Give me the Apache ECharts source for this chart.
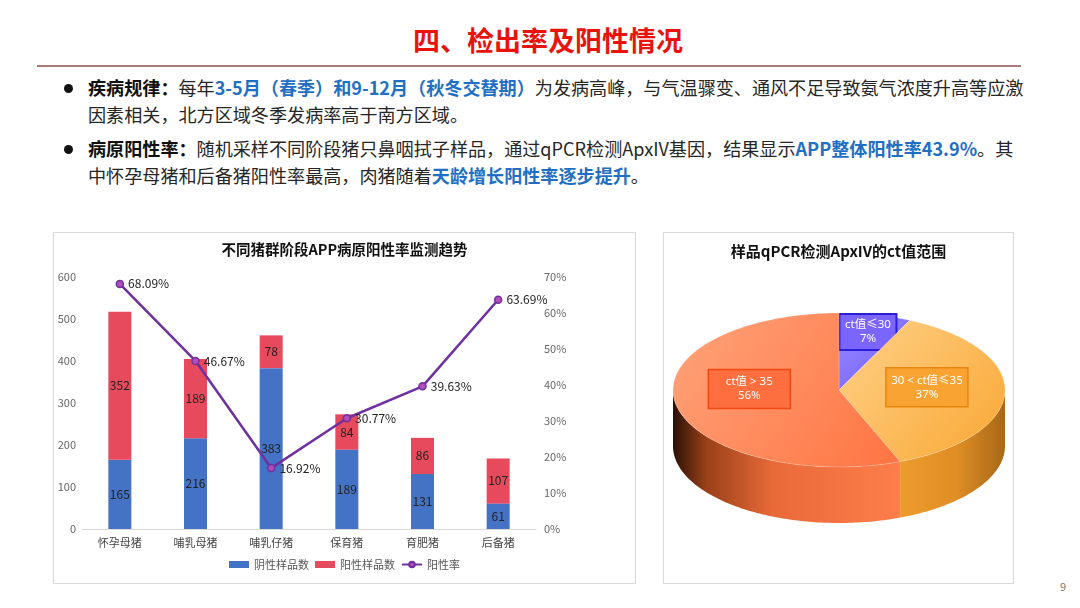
<!DOCTYPE html>
<html>
<head>
<meta charset="utf-8">
<script src="https://cdn.jsdelivr.net/npm/echarts@6/dist/echarts.min.js"></script>
<style>
  html, body { margin: 0; padding: 0; background: #fff; }
  body { width: 1080px; height: 608px; position: relative; overflow: hidden;
         font-family: "Noto Sans CJK SC", "Noto Sans", sans-serif; color: #262626; }
  #title { position: absolute; top: 19px; left: 0; width: 1096px; text-align: center;
           font-size: 27px; font-weight: 700; color: #e8140c; line-height: 42px; }
  #rule { position: absolute; top: 65px; left: 37px; width: 984px; height: 2px; background: #a87c78; }
  .bul { position: absolute; left: 88px; width: 980px; font-size: 18.1px; line-height: 27px; }
  .bul::before { content: ""; position: absolute; left: -24px; top: 10px; width: 9px; height: 9px;
                 border-radius: 50%; background: #111; }
  .bul b { color: #111; }
  .bul .hl { color: #1f6fc5; font-weight: 700; }
  .box { position: absolute; border: 1px solid #d9d9d9; background: #fff; }
  #pg { position: absolute; left: 1060px; top: 578px; font-size: 11px; color: #777; }
</style>
</head>
<body>
<div id="title">四、检出率及阳性情况</div>
<div id="rule"></div>
<div class="bul" style="top:74px"><b>疾病规律：</b>每年<span class="hl">3-5月（春季）和9-12月（秋冬交替期）</span>为发病高峰，与气温骤变、通风不足导致氨气浓度升高等应激<br>因素相关，北方区域冬季发病率高于南方区域。</div>
<div class="bul" style="top:135px"><b>病原阳性率：</b>随机采样不同阶段猪只鼻咽拭子样品，通过qPCR检测ApxIV基因，结果显示<span class="hl">APP整体阳性率43.9%</span>。其<br>中怀孕母猪和后备猪阳性率最高，肉猪随着<span class="hl">天龄增长阳性率逐步提升</span>。</div>
<div id="c1" class="box" style="left:53px;top:232px;width:581px;height:350px"></div>
<div id="c2" class="box" style="left:663px;top:232px;width:349px;height:350px"></div>
<div id="pg">9</div>
<script>
// ---- bar + line chart data ----
const stages = ['怀孕母猪', '哺乳母猪', '哺乳仔猪', '保育猪', '育肥猪', '后备猪'];
const negCounts = [165, 216, 383, 189, 131, 61];
const posCounts = [352, 189, 78, 84, 86, 107];
const posRate = [68.09, 46.67, 16.92, 30.77, 39.63, 63.69];

// ---- ct value pie data ----
const ctNames = ['ct值≤30', '30 < ct值≤35', 'ct值 > 35'];
const ctShares = [7, 37, 56];

const FONT = '"Noto Sans CJK SC", "Noto Sans", sans-serif';
const LFONT = '"Noto Sans", "Noto Sans CJK SC", sans-serif';

const c1 = echarts.init(document.getElementById('c1'));
c1.setOption({
  animation: false,
  textStyle: { fontFamily: FONT },
  title: { text: '不同猪群阶段APP病原阳性率监测趋势', left: 'center', top: 4,
           textStyle: { fontSize: 14.5, fontWeight: 700, color: '#111', fontFamily: FONT } },
  legend: { bottom: 8, itemGap: 6, itemWidth: 20, itemHeight: 7,
            textStyle: { fontSize: 11, color: '#555' },
            data: [{ name: '阴性样品数', icon: 'rect' }, { name: '阳性样品数', icon: 'rect' }, { name: '阳性率' }] },
  grid: { left: 28, right: 99, top: 44, bottom: 54, outerBoundsMode: 'none', containLabel: false },
  xAxis: { type: 'category', data: stages,
           axisTick: { show: false }, axisLine: { lineStyle: { color: '#d9d9d9' } },
           axisLabel: { fontSize: 11, color: '#444', margin: 8 } },
  yAxis: [
    { type: 'value', min: 0, max: 600, interval: 100, splitLine: { show: false },
      axisLabel: { fontSize: 11, color: '#666', margin: 6 } },
    { type: 'value', min: 0, max: 70, interval: 10, splitLine: { show: false },
      axisLabel: { fontSize: 11, color: '#666', formatter: '{value}%', margin: 8 } }
  ],
  series: [
    { name: '阴性样品数', type: 'bar', stack: 'n', data: negCounts, barWidth: 23,
      itemStyle: { color: '#4472c4' },
      label: { show: true, position: 'inside', color: '#222', fontSize: 12 } },
    { name: '阳性样品数', type: 'bar', stack: 'n', data: posCounts, barWidth: 23,
      itemStyle: { color: '#e64a5c' },
      label: { show: true, position: 'inside', color: '#222', fontSize: 12 } },
    { name: '阳性率', type: 'line', yAxisIndex: 1, data: posRate,
      symbol: 'circle', symbolSize: 7,
      lineStyle: { color: '#7030a0', width: 2.5 },
      itemStyle: { color: '#b04fb8', borderColor: '#7030a0', borderWidth: 1.5 },
      label: { show: true, position: 'right', color: '#222', fontSize: 12, distance: 4,
               formatter: p => p.value.toFixed(2) + '%' } }
  ]
});

// ---- 3D-looking pie drawn with custom series ----
const PIE = { cx: 175, cy: 157, rx: 166, ry: 77, depth: 56 };
const topFills = [
  ['#9a8cff', '#6f5cff'],
  ['#ffd18a', '#f9a732'],
  ['#ffa37a', '#ff7442']
];
const sideFills = [
  [[0, '#5040c0'], [1, '#6f5cff']],
  [[0, '#f5a435'], [0.55, '#f9a732'], [0.85, '#e08e25'], [1, '#a86818']],
  [[0, '#2a1006'], [0.1, '#9a4018'], [0.3, '#e86a38'], [0.7, '#ff7f4c'], [1, '#ff8a55']]
];
const boxStyle = [
  { fill: '#7a66ff', stroke: '#2b1fd6' },
  { fill: '#f9a432', stroke: '#e8860c' },
  { fill: '#ff6e3e', stroke: '#f04a10' }
];
const labelR = [0.8, 0.53, 0.55];
const labelDy = [2, -4, -9];

const total = ctShares.reduce((a, b) => a + b, 0);
const starts = [];
let acc = 0;
ctShares.forEach(v => { starts.push(acc / total * 360); acc += v; });

function pt(deg, k, dy) {
  const a = deg * Math.PI / 180;
  return [PIE.cx + PIE.rx * k * Math.sin(a), PIE.cy - PIE.ry * k * Math.cos(a) + (dy || 0)];
}
function arc(a0, a1, dy) {
  const pts = [];
  const n = Math.max(2, Math.ceil(a1 - a0));
  for (let i = 0; i <= n; i++) pts.push(pt(a0 + (a1 - a0) * i / n, 1, dy));
  return pts;
}
function span(i) {
  return [starts[i], starts[i] + ctShares[i] / total * 360];
}

function renderSide(params, api) {
  const i = params.dataIndex;
  const [a0, a1] = span(i);
  const v0 = Math.max(a0, 90), v1 = Math.min(a1, 270);
  if (v1 <= v0) return { type: 'group', children: [] };
  const top = arc(v0, v1, 0);
  const bot = arc(v0, v1, PIE.depth).reverse();
  return {
    type: 'polygon',
    shape: { points: top.concat(bot) },
    style: {
      fill: new echarts.graphic.LinearGradient(PIE.cx - PIE.rx, 0, PIE.cx + PIE.rx, 0,
        sideFills[i].map(s => ({ offset: s[0], color: s[1] })), true)
    }
  };
}

function renderTop(params, api) {
  const i = params.dataIndex;
  const [a0, a1] = span(i);
  const pts = [[PIE.cx, PIE.cy]].concat(arc(a0, a1, 0));
  const mid = (a0 + a1) / 2;
  const c = pt(mid, labelR[i], labelDy[i]);
  const pct = api.value(0) + '%';
  const name = ctNames[i];
  const w = i === 0 ? 57 : 82, h = i === 0 ? 36 : 39;
  return {
    type: 'group',
    children: [
      { type: 'polygon', shape: { points: pts },
        style: { fill: new echarts.graphic.LinearGradient(0, 0, 1, 1,
          [{ offset: 0, color: topFills[i][0] }, { offset: 1, color: topFills[i][1] }]),
          stroke: 'rgba(255,255,255,0.35)', lineWidth: 0.6 } },
      { type: 'rect', shape: { x: c[0] - w / 2, y: c[1] - h / 2, width: w, height: h },
        style: { fill: boxStyle[i].fill, stroke: boxStyle[i].stroke, lineWidth: i === 0 ? 2 : 1.5 } },
      { type: 'text', x: c[0], y: c[1],
        style: { text: name + '\n' + pct, fill: '#fff', fontSize: 11.5, fontFamily: LFONT,
                 align: 'center', verticalAlign: 'middle', lineHeight: 14 } }
    ]
  };
}

const c2 = echarts.init(document.getElementById('c2'));
c2.setOption({
  animation: false,
  title: { text: '样品qPCR检测ApxIV的ct值范围', left: 'center', top: 6,
           textStyle: { fontSize: 15, fontWeight: 700, color: '#111', fontFamily: FONT } },
  series: [
    { type: 'custom', coordinateSystem: 'none', renderItem: renderSide, data: ctShares, z: 1 },
    { type: 'custom', coordinateSystem: 'none', renderItem: renderTop, data: ctShares, z: 2 }
  ]
});
</script>
</body>
</html>
